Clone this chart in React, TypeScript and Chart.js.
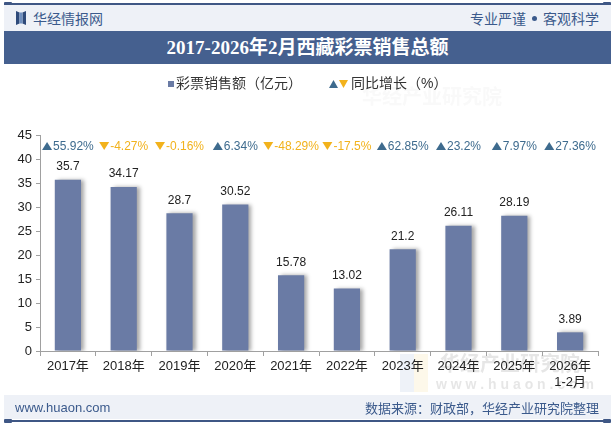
import React, { useEffect, useRef } from "react";
import { Chart, registerables } from "chart.js";

Chart.register(...registerables);

// Lottery sales in Tibet (100 million yuan) and year-on-year growth (%)
const categories: (string | string[])[] = [
  "2017年", "2018年", "2019年", "2020年", "2021年",
  "2022年", "2023年", "2024年", "2025年", ["2026年", "1-2月"],
];
const salesValues = [35.7, 34.17, 28.7, 30.52, 15.78, 13.02, 21.2, 26.11, 28.19, 3.89];
const growthValues = [55.92, -4.27, -0.16, 6.34, -48.29, -17.5, 62.85, 23.2, 7.97, 27.36];
const growthLabels = ["55.92%", "-4.27%", "-0.16%", "6.34%", "-48.29%", "-17.5%", "62.85%", "23.2%", "7.97%", "27.36%"];
const yTicksMax = 45;
const yTickStep = 5;

const BAR = "#6a7ba5";
const UP = "#3e6b8e";
const DOWN = "#f2b21c";
const NAVY = "#3b5a8c";
const FONT = "'Liberation Sans', Arial, 'Noto Sans CJK SC', sans-serif";

function tri(ctx: CanvasRenderingContext2D, x: number, cy: number, w: number, h: number, up: boolean, color: string) {
  ctx.beginPath();
  if (up) {
    ctx.moveTo(x, cy + h / 2);
    ctx.lineTo(x + w, cy + h / 2);
    ctx.lineTo(x + w / 2, cy - h / 2);
  } else {
    ctx.moveTo(x, cy - h / 2);
    ctx.lineTo(x + w, cy - h / 2);
    ctx.lineTo(x + w / 2, cy + h / 2);
  }
  ctx.closePath();
  ctx.fillStyle = color;
  ctx.fill();
}

const decorPlugin = {
  id: "decor",
  beforeDraw(chart: any) {
    const ctx: CanvasRenderingContext2D = chart.ctx;
    ctx.save();
    // faint brand watermarks
    ctx.globalAlpha = 0.18;
    ctx.fillStyle = "#9fb7d8";
    ctx.fillRect(400, 354, 14, 38);
    ctx.fillStyle = "#f3d98a";
    ctx.fillRect(414, 354, 14, 38);
    ctx.globalAlpha = 0.35;
    ctx.fillStyle = "#b8b8b8";
    ctx.font = `bold 20px 'Noto Sans CJK SC', sans-serif`;
    ctx.textBaseline = "middle";
    ctx.textAlign = "left";
    ctx.fillText("华经产业研究院", 440, 363);
    ctx.font = `bold 14px ${FONT}`;
    ctx.fillText("w w w . h u a o n . c o m", 436, 385);
    ctx.globalAlpha = 0.08;
    ctx.font = `bold 20px 'Noto Sans CJK SC', sans-serif`;
    ctx.fillText("华经产业研究院", 362, 96);
    ctx.restore();
  },
  beforeDatasetsDraw(chart: any) {
    const ctx: CanvasRenderingContext2D = chart.ctx;
    ctx.save();
    ctx.shadowColor = "rgba(0,0,0,0.35)";
    ctx.shadowBlur = 4;
    ctx.shadowOffsetX = 3;
    ctx.shadowOffsetY = 0;
  },
  afterDatasetsDraw(chart: any) {
    const ctx: CanvasRenderingContext2D = chart.ctx;
    ctx.restore();
    const meta = chart.getDatasetMeta(0);
    const yScale = chart.scales.y;
    ctx.save();
    ctx.textAlign = "center";
    ctx.textBaseline = "bottom";
    ctx.font = `12px ${FONT}`;
    ctx.fillStyle = "#222";
    meta.data.forEach((bar: any, i: number) => {
      ctx.fillText(String(salesValues[i]), bar.x, bar.y - 7);
    });
    // growth row
    const gy = yScale.getPixelForValue(yTicksMax) + 11;
    ctx.textAlign = "left";
    ctx.textBaseline = "middle";
    meta.data.forEach((bar: any, i: number) => {
      const up = growthValues[i] >= 0;
      const color = up ? UP : DOWN;
      const txt = growthLabels[i];
      const tw = ctx.measureText(txt).width;
      const total = 10 + 1 + tw;
      const x0 = bar.x - total / 2;
      tri(ctx, x0, gy, 10, 8, up, color);
      ctx.fillStyle = color;
      ctx.fillText(txt, x0 + 11, gy + 0.5);
    });
    ctx.restore();
  },
  afterDraw(chart: any) {
    const ctx: CanvasRenderingContext2D = chart.ctx;
    ctx.save();
    ctx.textBaseline = "middle";
    ctx.textAlign = "left";
    ctx.font = `14px ${FONT}`;
    ctx.fillStyle = BAR;
    ctx.fillRect(168, 81, 6, 6);
    ctx.fillStyle = "#333";
    ctx.fillText("彩票销售额（亿元）", 176, 84);
    tri(ctx, 329, 84, 9, 8, true, UP);
    tri(ctx, 339, 84, 9, 8, false, DOWN);
    ctx.fillStyle = "#333";
    ctx.fillText("同比增长（%）", 351, 84);
    ctx.restore();
  },
};

function ChartCanvas() {
  const ref = useRef<HTMLCanvasElement | null>(null);
  useEffect(() => {
    if (!ref.current) return;
    const chart = new Chart(ref.current, {
      type: "bar",
      data: {
        labels: categories,
        datasets: [
          {
            data: salesValues,
            backgroundColor: BAR,
            categoryPercentage: 1,
            barPercentage: 0.47,
          },
        ],
      },
      options: {
        responsive: false,
        animation: false,
        devicePixelRatio: 1,
        layout: { padding: { top: 135, left: 0, right: 17, bottom: 31 } },
        plugins: { legend: { display: false }, tooltip: { enabled: false } },
        scales: {
          x: {
            grid: { display: true, drawOnChartArea: false, drawTicks: true, tickLength: 5, color: "#a0a0a0", offset: true },
            border: { display: true, color: "#a0a0a0" },
            ticks: { color: "#222", font: { size: 13, family: FONT }, padding: 3, maxRotation: 0, autoSkip: false },
            afterFit: (s: any) => { s.height = 45; },
          },
          y: {
            min: 0,
            max: yTicksMax,
            grid: { display: true, drawOnChartArea: false, drawTicks: true, tickLength: 4, color: "#a0a0a0" },
            border: { display: true, color: "#a0a0a0" },
            ticks: { stepSize: yTickStep, color: "#222", font: { size: 13, family: FONT }, padding: 4 },
            afterFit: (s: any) => { s.width = 40; },
          },
        },
      },
      plugins: [decorPlugin],
    } as any);
    return () => chart.destroy();
  }, []);
  return <canvas ref={ref} width={615} height={427} style={{ position: "absolute", left: 0, top: 0, width: 615, height: 427 }} />;
}

const abs = (s: React.CSSProperties): React.CSSProperties => ({ position: "absolute", ...s });

export default function App() {
  const cjk = "'Noto Sans CJK SC', sans-serif";
  return (
    <div style={{ position: "fixed", left: 0, top: 0, width: 615, height: 427, background: "#fff", overflow: "hidden", fontFamily: FONT }}>
      <ChartCanvas />
      {/* top rule */}
      <div style={abs({ left: 4, top: 3, width: 607, height: 2, background: "#3f5785" })} />
      <div style={abs({ left: 4, top: 2, width: 8, height: 4, background: "#3f5785", borderRadius: 1 })} />
      <div style={abs({ left: 603, top: 2, width: 8, height: 4, background: "#3f5785", borderRadius: 1 })} />
      {/* header band */}
      <div style={abs({ left: 4, top: 5, width: 607, height: 26, background: "#eef1f7" })} />
      <svg style={abs({ left: 16, top: 11 })} width={10} height={14} viewBox="0 0 10 14">
        <path d="M0 0 L3.5 1.5 L3.5 12.5 L0 14 Z" fill="#2e4a7a" />
        <path d="M10 0 L6.5 1.5 L6.5 12.5 L10 14 Z" fill="#2e4a7a" />
        <path d="M3.5 1.5 L6.5 1.5 L6.5 12.5 L3.5 12.5 Z" fill="#6f8fbf" />
      </svg>
      <div style={abs({ left: 33, top: 9, height: 18, lineHeight: "18px", fontSize: 14, color: NAVY, fontFamily: cjk })}>华经情报网</div>
      <div style={abs({ right: 16, top: 9, height: 18, lineHeight: "18px", fontSize: 14, color: NAVY, fontFamily: cjk, whiteSpace: "nowrap", display: "flex", alignItems: "center" })}>
        <span>专业严谨</span>
        <span style={{ display: "inline-block", width: 5, height: 5, borderRadius: 3, background: NAVY, margin: "0 6px" }} />
        <span>客观科学</span>
      </div>
      {/* title band */}
      <div style={abs({ left: 4, top: 31, width: 607, height: 33, background: "#45608f", color: "#fff", textAlign: "center", lineHeight: "33px", fontSize: 19, fontWeight: "bold", fontFamily: "'Liberation Serif', 'Noto Sans CJK SC', serif", whiteSpace: "nowrap" })}>
        2017-2026年2月西藏彩票销售总额
      </div>
      {/* footer band */}
      <div style={abs({ left: 4, top: 395, width: 607, height: 24, background: "#eef1f7" })} />
      <div style={abs({ left: 15, top: 399, height: 18, lineHeight: "18px", fontSize: 13, color: NAVY })}>www.huaon.com</div>
      <div style={abs({ right: 16, top: 399, height: 18, lineHeight: "18px", fontSize: 13, color: NAVY, fontFamily: cjk, whiteSpace: "nowrap" })}>数据来源：财政部，华经产业研究院整理</div>
      {/* bottom rule */}
      <div style={abs({ left: 4, top: 420, width: 607, height: 2, background: "#3f5785" })} />
      <div style={abs({ left: 4, top: 419, width: 8, height: 4, background: "#3f5785", borderRadius: 1 })} />
      <div style={abs({ left: 603, top: 419, width: 8, height: 4, background: "#3f5785", borderRadius: 1 })} />
    </div>
  );
}
